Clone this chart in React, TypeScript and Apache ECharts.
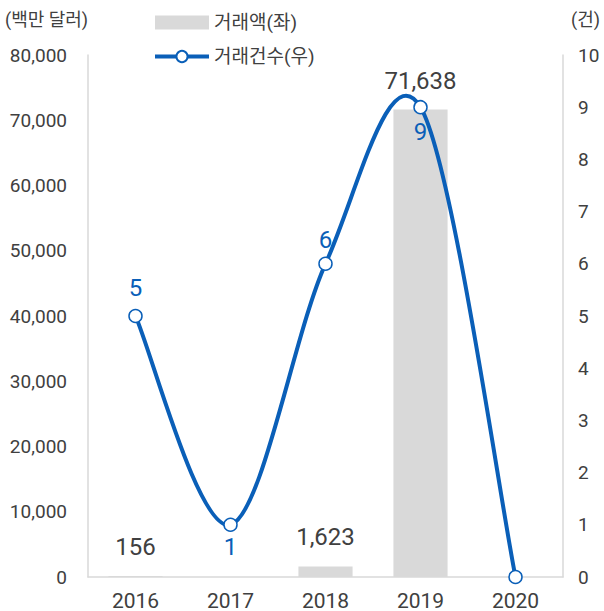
import React, { useEffect, useRef } from "react";
import * as echarts from "echarts";

const categories = ["2016", "2017", "2018", "2019", "2020"];
const amountValues: (number | null)[] = [156, null, 1623, 71638, null];
const countValues = [5, 1, 6, 9, 0];
const countLabelPos = ["top", "bottom", "top", "bottom", "none"];
const countLabelDist = [9, 3, 5, 6, 0];

const FONT = "Roboto, 'Noto Sans CJK KR', sans-serif";
const GRAY_TEXT = "#404040";
const BLUE = "#0a5fb8";

export default function App() {
  const ref = useRef<HTMLDivElement>(null);
  useEffect(() => {
    if (!ref.current) return;
    const chart = echarts.init(ref.current, undefined, { renderer: "svg" });
    chart.setOption({
      animation: false,
      textStyle: { fontFamily: FONT },
      grid: { left: 88, right: 41, top: 55, bottom: 34 },
      legend: {
        orient: "vertical",
        left: 148,
        top: 8,
        itemGap: 15,
        itemWidth: 54,
        itemHeight: 14,
        textStyle: { fontFamily: FONT, fontSize: 19, color: GRAY_TEXT },
        data: [
          { name: "거래액(좌)", icon: "rect" },
          {
            name: "거래건수(우)",
            lineStyle: { color: BLUE, width: 4, opacity: 1 },
          },
        ],
      },
      graphic: [
        {
          type: "text",
          left: 5,
          top: 10,
          style: { text: "(백만 달러)", fontFamily: FONT, fontSize: 18, fill: GRAY_TEXT },
        },
        {
          type: "text",
          left: 571,
          top: 10,
          style: { text: "(건)", fontFamily: FONT, fontSize: 18, fill: GRAY_TEXT },
        },
      ],
      xAxis: {
        type: "category",
        data: categories,
        axisLine: { show: true, lineStyle: { color: "#d9d9d9", width: 1.5 } },
        axisTick: { show: false },
        axisLabel: { fontFamily: FONT, fontSize: 21, color: GRAY_TEXT, margin: 13 },
      },
      yAxis: [
        {
          type: "value",
          min: 0,
          max: 80000,
          interval: 10000,
          splitLine: { show: false },
          axisLine: { show: true, lineStyle: { color: "#d9d9d9", width: 1.5 } },
          axisTick: { show: false },
          axisLabel: {
            fontFamily: FONT,
            fontSize: 19,
            color: GRAY_TEXT,
            margin: 21,
            formatter: (v: number) => v.toLocaleString("en-US"),
          },
        },
        {
          type: "value",
          min: 0,
          max: 10,
          interval: 1,
          splitLine: { show: false },
          axisLine: { show: true, lineStyle: { color: "#d9d9d9", width: 1.5 } },
          axisTick: { show: false },
          axisLabel: { fontFamily: FONT, fontSize: 19, color: GRAY_TEXT, margin: 15 },
        },
      ],
      series: [
        {
          name: "거래액(좌)",
          type: "bar",
          yAxisIndex: 0,
          data: amountValues,
          barWidth: "57%",
          itemStyle: { color: "#d9d9d9" },
          label: {
            show: true,
            position: "top",
            distance: 17,
            fontFamily: FONT,
            fontSize: 24,
            color: GRAY_TEXT,
            formatter: (p: any) => (p.value == null ? "" : Number(p.value).toLocaleString("en-US")),
          },
        },
        {
          name: "smoothCurve",
          type: "custom",
          yAxisIndex: 1,
          data: countValues.map((v, i) => [i, v]),
          silent: true,
          z: 4,
          renderItem: (params: any, api: any) => {
            if (params.dataIndex !== 0) return null;
            const pts = countValues.map((v, i) => api.coord([i, v]));
            const n = pts.length;
            const children: any[] = [];
            for (let i = 0; i < n - 1; i++) {
              const p0 = pts[Math.max(0, i - 1)];
              const p1 = pts[i];
              const p2 = pts[i + 1];
              const p3 = pts[Math.min(n - 1, i + 2)];
              const cp1 = [p1[0] + (p2[0] - p0[0]) / 6, p1[1] + (p2[1] - p0[1]) / 6];
              const cp2 = [p2[0] - (p3[0] - p1[0]) / 6, p2[1] - (p3[1] - p1[1]) / 6];
              children.push({
                type: "bezierCurve",
                shape: {
                  x1: p1[0],
                  y1: p1[1],
                  cpx1: cp1[0],
                  cpy1: cp1[1],
                  cpx2: cp2[0],
                  cpy2: cp2[1],
                  x2: p2[0],
                  y2: p2[1],
                },
                style: { stroke: BLUE, lineWidth: 4, fill: null },
              });
            }
            return { type: "group", children };
          },
        },
        {
          name: "거래건수(우)",
          type: "line",
          yAxisIndex: 1,
          symbol: "circle",
          symbolSize: 13,
          lineStyle: { color: BLUE, width: 4, opacity: 0 },
          itemStyle: { color: "#fff", borderColor: BLUE, borderWidth: 1.5 },
          data: countValues.map((v, i) => ({
            value: v,
            label: {
              show: countLabelPos[i] !== "none",
              position: countLabelPos[i] === "none" ? "top" : countLabelPos[i],
              distance: countLabelDist[i],
            },
          })),
          label: {
            fontFamily: FONT,
            fontSize: 24,
            color: BLUE,
          },
          z: 5,
        },
      ],
    });
    return () => chart.dispose();
  }, []);
  return <div ref={ref} style={{ width: 604, height: 611, position: "absolute", left: 0, top: 0 }} />;
}
